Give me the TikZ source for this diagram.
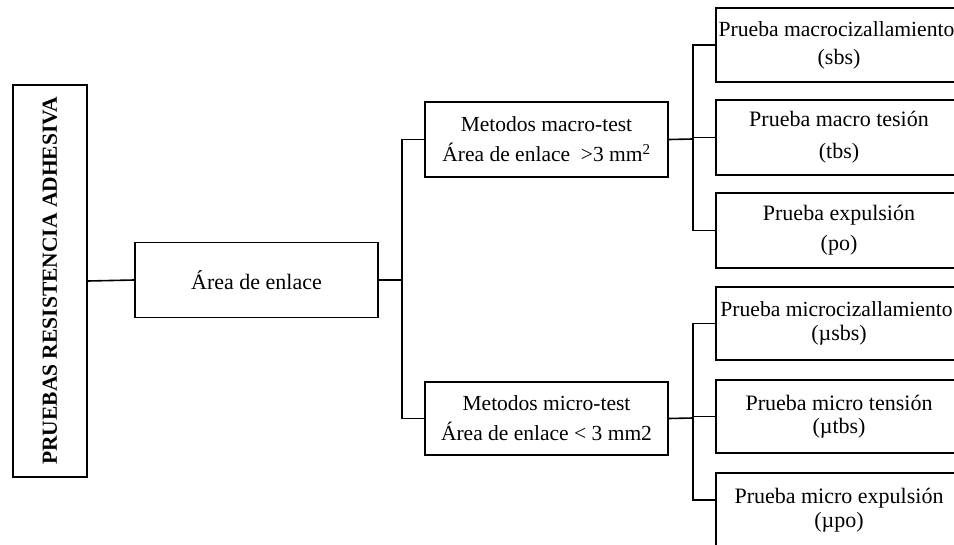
\documentclass[tikz,border=0pt]{standalone}
\usepackage{fontspec}
\setmainfont{Liberation Serif}
\begin{document}
\begin{tikzpicture}[x=1pt,y=-1pt,
  box/.style={draw=black, line width=1.9pt, inner sep=0pt, align=center},
  conn/.style={draw=black, line width=1.6pt},
  bigtxt/.style={font=\fontsize{22}{30}\selectfont},
  midtxt/.style={font=\fontsize{21.5}{30}\selectfont},
  tighttxt/.style={font=\fontsize{22}{23.5}\selectfont}]
\clip (0,0) rectangle (954,544);
\fill[white] (0,0) rectangle (954,544);
% title
\node[box, minimum width=74, minimum height=392] (title) at (50,281)
  {\rotatebox{90}{\fontsize{21.5}{24}\selectfont\bfseries PRUEBAS RESISTENCIA ADHESIVA}};
% level 1
\node[box, bigtxt, minimum width=243, minimum height=75] (area) at (256.5,280) {Área de enlace};
% level 2
\node[box, midtxt, minimum width=243, minimum height=75] (macro) at (546.5,139.5)
  {Metodos macro-test\\Área de enlace\ \ >3 mm\textsuperscript{2}};
\node[box, midtxt, minimum width=243, minimum height=73] (micro) at (546.5,418.5)
  {Metodos micro-test\\Área de enlace < 3 mm2};
% level 3 macro
\node[box, font=\fontsize{22}{28}\selectfont, minimum width=246, minimum height=74] (b1) at (839,45)
  {\makebox[0pt]{\hspace*{-5pt}\fontsize{21.6}{28}\selectfont Prueba macrocizallamiento}\\(sbs)};
\node[box, font=\fontsize{22}{32}\selectfont, minimum width=246, minimum height=75] (b2) at (839,137.5)
  {Prueba macro tesión\\(tbs)};
\node[box, font=\fontsize{22}{30}\selectfont, minimum width=246, minimum height=75] (b3) at (839,230.5)
  {Prueba expulsión\\(po)};
% level 3 micro
\node[box, tighttxt, minimum width=246, minimum height=73] (b4) at (839,323.5)
  {\makebox[0pt]{\hspace*{-5pt}\fontsize{21.6}{23.5}\selectfont Prueba microcizallamiento}\\(µsbs)};
\node[box, tighttxt, minimum width=246, minimum height=73] (b5) at (839,416.5)
  {Prueba micro tensión\\(µtbs)};
\node[box, tighttxt, minimum width=246, minimum height=74] (b6) at (839,510)
  {Prueba micro expulsión\\(µpo)};
% junctions
\coordinate (j1) at (402,280);
\coordinate (j2) at (693,139);
\coordinate (j3) at (693,418);
\coordinate (c6) at (716,500);
% connectors
\draw[conn] (title.east) -- (area.west);
\draw[conn] (area.east) -- (j1);
\draw[conn] (macro.west) -| (j1) |- (micro.west);
\draw[conn] (macro.east) -- (j2);
\draw[conn] (b1.west) -| (j2) |- (b3.west);
\draw[conn] (b2.west) -- (b2.west -| j2);
\draw[conn] (micro.east) -- (j3);
\draw[conn] (b4.west) -| (j3) |- (c6);
\draw[conn] (b5.west) -- (b5.west -| j3);
\end{tikzpicture}
\end{document}
